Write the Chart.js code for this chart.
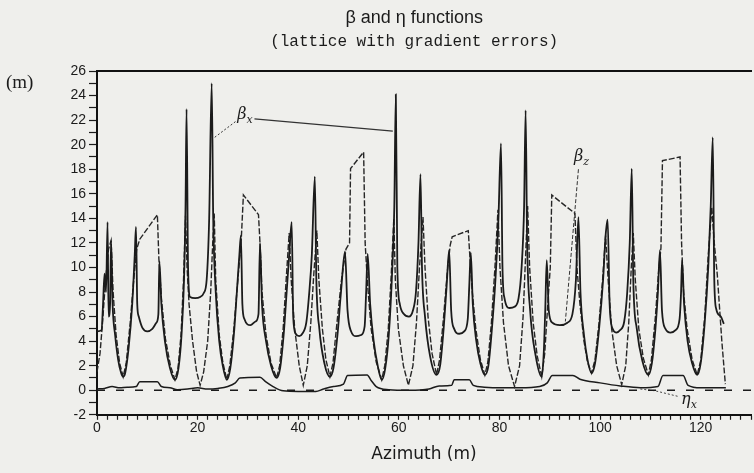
<!DOCTYPE html>
<html>
<head>
<meta charset="utf-8">
<title>beta and eta functions</title>
<script src="https://cdn.jsdelivr.net/npm/chart.js@4.4.1/dist/chart.umd.min.js"></script>
<style>
  body { margin: 0; background: #efefec; }
  canvas { display: block; }
</style>
</head>
<body>
<canvas id="chart" width="754" height="473"></canvas>
<script>
// values: [azimuth (m), value (m)]
const betaX = [
  [0,4.8],[0.9,4.9],[1.2,7],[1.5,9.5],[1.8,8],[2.1,13.7],[2.3,6],[2.6,7],[2.8,12.2],[3.1,7],[3.6,4.5],[4.2,2.5],[4.8,1.4],[5.2,1.1],
  [5.6,1.4],[6.3,3.5],[7,7],[7.5,11],[7.75,13.3],[8,7],[8.3,6],[9,5.1],[10,4.8],[11,5],[11.8,5.5],[12.2,6.2],[12.4,10.5],[12.8,7],[13.5,4],[14.5,1.8],[15.5,0.85],
  [16.2,1.8],[16.8,4.5],[17.3,9],[17.6,15],[17.8,22.9],[18.1,10],[18.5,7.6],[19.5,7.5],[20.5,7.6],[21.2,7.9],[21.8,9],[22.3,14],[22.8,25],[23.1,14],[23.6,8],[24.3,4],[25,2],[25.8,0.85],
  [26.5,1.8],[27.2,4.5],[27.8,8],[28.3,11],[28.6,12.6],[28.9,7],[29.3,5.8],[30.5,5.3],[31.5,5.6],[32.1,6.2],[32.4,12],[32.8,7],[33.6,4],[34.6,2],[35.7,1],
  [36.4,1.8],[37.1,4.5],[37.7,8],[38.2,11],[38.7,13.7],[39,6],[39.5,4.6],[40.2,4.4],[40.8,4.6],[41.6,5.5],[42.2,8],[42.7,11],[43.3,17.4],[43.6,9],[44.2,5],[45.2,2.2],[46.3,1.1],
  [47,1.8],[47.8,4.5],[48.5,8],[49.3,11.3],[49.8,6.5],[50.5,4.8],[51.5,4.4],[52.5,4.5],[53.2,5.2],[53.5,8],[53.8,11.1],[54.3,7],[55,4],[55.8,2],[56.6,0.85],
  [57.3,1.8],[58,4.5],[58.6,9],[59.1,15],[59.4,24.1],[59.7,10],[60.2,7],[61,6.2],[62,6],[62.8,6.5],[63.4,8],[63.9,12],[64.3,17.6],[64.6,10],[65.2,6],[66.2,2.8],[67.5,1.25],
  [68.2,2],[68.9,5],[69.5,8.5],[70,11.4],[70.4,6.5],[71,5],[72,4.6],[73,4.8],[73.7,5.8],[74,8.5],[74.3,11.2],[74.7,7],[75.4,4],[76.2,2.2],[77.1,1.25],
  [77.8,2],[78.5,5],[79.2,9],[79.8,14],[80.3,20.1],[80.6,10],[81,7.5],[82,6.7],[83,6.8],[83.8,7.5],[84.4,10],[84.9,15],[85.2,22.8],[85.5,12],[86.1,6.5],[87.2,2.8],[88.4,1.1],
  [88.8,3],[89.1,6.5],[89.4,10.6],[89.8,6.5],[90.5,5.5],[92,5.3],[93.5,5.5],[94.5,6.2],[95.2,9],[95.7,14.1],[96.1,8],[96.8,4.5],[97.5,2.5],[98.3,1.4],
  [99,2.2],[99.8,5],[100.6,9],[101.1,12.6],[101.5,13.9],[101.9,7],[102.5,5],[103.2,4.7],[104,4.9],[104.8,5.6],[105.4,8],[105.9,12],[106.3,18.05],[106.6,9],[107.3,5],[108.4,2.4],[109.6,1.25],
  [110.3,2.2],[111,5],[111.5,8],[111.9,11.4],[112.3,6.5],[113,5],[114,4.7],[115,4.9],[115.8,5.8],[116.1,8],[116.3,10.6],[116.7,7],[117.4,4],[118.3,2.2],[119.3,1.25],
  [120,2.2],[120.8,5.5],[121.5,10],[122,15],[122.4,20.6],[122.7,9],[123.1,6.6],[124,6],[124.6,5.4]
];
const betaZ = [
  [0,1.5],[0.6,3],[1.1,5.5],[1.7,9],[2.3,11.5],[2.8,12.2],[3.2,8],[3.8,4.5],[4.5,2.2],[5.2,1.1],
  [5.8,2.2],[6.6,5.5],[7.3,9],[7.9,11.5],[8.5,12.3],[12,14.3],[12.3,10.7],[12.8,7.5],[13.6,4.2],[14.6,2],[15.5,0.85],
  [16.1,1.8],[16.7,4.5],[17.2,9],[17.6,14.2],[17.9,10],[18.3,7],[19,4],[19.8,1.5],[20.5,0.4],[21.2,1.5],[22,4],[22.6,8],[23,12],[23.3,14.4],[23.6,9],[24.3,4.5],[25,2.3],[25.8,0.85],
  [26.4,2],[27.2,5],[28,9],[28.7,12.5],[29.1,15.9],[32.1,14.3],[32.4,12],[32.8,8],[33.6,4.5],[34.6,2.2],[35.7,1],
  [36.3,2],[37,5],[37.6,9],[38.2,12.8],[38.6,9],[39.3,5],[40.2,2],[41,0.4],[41.8,2],[42.5,5.5],[43.1,9.5],[43.7,13],[44.1,9],[44.8,5],[45.5,2.5],[46.3,1.1],
  [46.9,2.2],[47.7,5.5],[48.6,9],[49.5,11.5],[50.2,12],[50.4,18.05],[53,19.4],[53.3,12],[53.8,8.5],[54.5,5],[55.5,2.3],[56.6,0.85],
  [57.2,2],[57.9,5],[58.5,9.5],[59,14],[59.3,9],[59.9,5],[60.9,2],[61.9,0.4],[62.8,2],[63.5,5.5],[64.1,10],[64.8,14.1],[65.2,10],[65.8,6],[66.6,3],[67.5,1.25],
  [68.1,2.5],[68.9,6],[69.6,9.5],[70.2,11.8],[70.6,12.5],[73.8,13],[74.1,11],[74.6,8],[75.3,5],[76.2,2.5],[77.1,1.25],
  [77.7,2.3],[78.4,5.5],[79.1,10],[79.7,14.7],[80.1,10],[80.8,5.5],[81.8,2],[83,0.3],[84,2],[84.7,6],[85.2,11],[85.6,15],[86,10],[86.7,5.5],[87.5,2.8],[88.4,1.1],
  [89,3],[89.6,7],[90.1,10],[90.4,15.9],[95,14.4],[95.4,10],[96,7],[96.8,4],[97.5,2.3],[98.3,1.4],
  [99,2.5],[99.8,5.5],[100.5,9],[101.1,12.6],[101.6,9],[102.3,5],[103.3,2],[104.3,0.45],[105.1,2],[105.7,5.5],[106.2,10],[106.6,12.8],[107,9],[107.7,5],[108.6,2.6],[109.6,1.25],
  [110.2,2.5],[111,6],[111.6,9.5],[112.1,11.6],[112.4,18.7],[115.9,19],[116.2,12],[116.6,8],[117.3,5],[118.3,2.5],[119.3,1.25],
  [120,2.4],[120.8,6],[121.5,11],[122.2,14.9],[122.7,12],[123.3,9.4],[124.2,4],[124.9,0.5]
];
const etaX = [
  [0,0.1],[1.5,0.15],[3,0.3],[4.5,0.2],[6,0.25],[7.8,0.3],[8.5,0.7],[12,0.7],[12.8,0.3],[14.5,0.2],[16,0.05],[18,0.1],[20,0.2],[22,0.1],[24,0.15],[26,0.3],
  [27.5,0.6],[28.4,1],[32.4,1.05],[33.5,0.7],[35,0.3],[37,-0.05],[40,-0.1],[43.5,-0.1],[45,0.1],[47,0.3],[49,0.5],[49.8,1.2],[53.7,1.25],[54.5,0.8],[55.5,0.3],
  [58,0.05],[62,0],[66,0.1],[68,0.35],[70.5,0.4],[71,0.85],[74,0.85],[74.8,0.4],[77,0.25],[80,0.2],[84,0.2],[88,0.3],[89.5,0.6],[90.5,1.2],[94.6,1.2],
  [96,0.9],[100,0.6],[104,0.35],[108,0.2],[111.5,0.3],[112.5,1.2],[116.5,1.2],[117.5,0.4],[120,0.2],[125,0.2]
];
const zeroLine = [[0,0],[130,0]];

// leader lines and where the curve names sit
const leaderBetaXa = [[23.4,20.6],[27.6,21.9]];
const leaderBetaXb = [[31.3,22.1],[58.8,21.1]];
const leaderBetaZ = [[95.7,18],[93.1,5.6]];
const leaderEtaX = [[108,0.1],[111,-0.05],[115.5,-0.5]];
const curveNames = [['β','x',27.9,22.4],['β','z',94.8,19],['η','x',116.1,-0.8]];

const titleLines = ['β and η functions', '(lattice with gradient errors)'];
const xTickStep = 2, xLabelStep = 20;
const yTickStep = 1, yLabelStep = 2;

const toXY = arr => arr.map(p => ({x: p[0], y: p[1]}));
const ink = '#1b1b1b';

const figureText = {
  id: 'figureText',
  afterDraw(chart) {
    const {ctx, chartArea, scales: {x, y}} = chart;
    ctx.save();
    ctx.fillStyle = ink;
    ctx.textBaseline = 'middle';

    // titles sit a little left of the plot centre, as in the scan
    const cx = chartArea.left + chartArea.width * 0.485;
    ctx.textAlign = 'center';
    ctx.font = '18px "Liberation Sans"';
    ctx.fillText(titleLines[0], cx, 18);
    ctx.font = '16px "Liberation Mono"';
    ctx.fillText(titleLines[1], cx, 42);

    ctx.textAlign = 'left';
    ctx.font = '19px "Liberation Serif"';
    ctx.fillText('(m)', 6, chartArea.top + 12);

    curveNames.forEach(([name, sub, xv, yv]) => {
      const px = x.getPixelForValue(xv), py = y.getPixelForValue(yv);
      ctx.font = 'italic 16px "DejaVu Serif"';
      ctx.fillText(name, px, py);
      const w = ctx.measureText(name).width;
      ctx.font = 'italic 11px "DejaVu Serif"';
      ctx.fillText(sub, px + w, py + 5);
    });
    ctx.restore();
  }
};

new Chart(document.getElementById('chart'), {
  type: 'line',
  data: {
    datasets: [
      {label: 'βx', data: toXY(betaX), borderColor: ink, borderWidth: 1.8, cubicInterpolationMode: 'monotone'},
      {label: 'βz', data: toXY(betaZ), borderColor: '#262626', borderWidth: 1.4, borderDash: [6, 2], tension: 0},
      {label: 'ηx', data: toXY(etaX), borderColor: ink, borderWidth: 1.5, cubicInterpolationMode: 'monotone'},
      {label: 'zero', data: toXY(zeroLine), borderColor: ink, borderWidth: 1.5, borderDash: [8, 11]},
      {label: 'l1', data: toXY(leaderBetaXa), borderColor: '#333', borderWidth: 1, borderDash: [2, 2]},
      {label: 'l2', data: toXY(leaderBetaXb), borderColor: '#333', borderWidth: 1.1},
      {label: 'l3', data: toXY(leaderBetaZ), borderColor: '#333', borderWidth: 1, borderDash: [4, 2]},
      {label: 'l4', data: toXY(leaderEtaX), borderColor: '#444', borderWidth: 1, borderDash: [2, 2]}
    ]
  },
  options: {
    responsive: false,
    animation: false,
    events: [],
    elements: {point: {radius: 0}},
    layout: {padding: {top: 71, right: 3, bottom: 0, left: 0}},
    plugins: {
      legend: {display: false},
      tooltip: {enabled: false}
    },
    scales: {
      x: {
        type: 'linear',
        position: 'bottom',
        min: 0,
        max: 130,
        ticks: {
          stepSize: xTickStep,
          autoSkip: false,
          maxRotation: 0,
          padding: 0,
          color: ink,
          font: {family: '"Liberation Sans"', size: 14},
          callback: v => (v % xLabelStep === 0 ? v : '')
        },
        grid: {drawOnChartArea: false, tickLength: 5, tickColor: ink, tickWidth: 1.2},
        border: {color: '#111', width: 2},
        title: {
          display: true,
          text: 'Azimuth (m)',
          color: ink,
          font: {family: '"DejaVu Sans"', size: 17},
          padding: {top: 8, bottom: 8}
        }
      },
      xTop: {
        type: 'linear',
        position: 'top',
        min: 0,
        max: 130,
        ticks: {display: false},
        grid: {display: false, drawTicks: false},
        border: {color: '#111', width: 2}
      },
      y: {
        min: -2,
        max: 26,
        ticks: {
          stepSize: yTickStep,
          autoSkip: false,
          padding: 3,
          color: ink,
          font: {family: '"Liberation Sans"', size: 14},
          callback: v => (v % yLabelStep === 0 ? v : '')
        },
        grid: {drawOnChartArea: false, tickLength: 8, tickColor: ink, tickWidth: 1.2},
        border: {color: '#111', width: 2},
        afterFit: scale => { scale.width = 97; }
      }
    }
  },
  plugins: [figureText]
});
</script>
</body>
</html>
